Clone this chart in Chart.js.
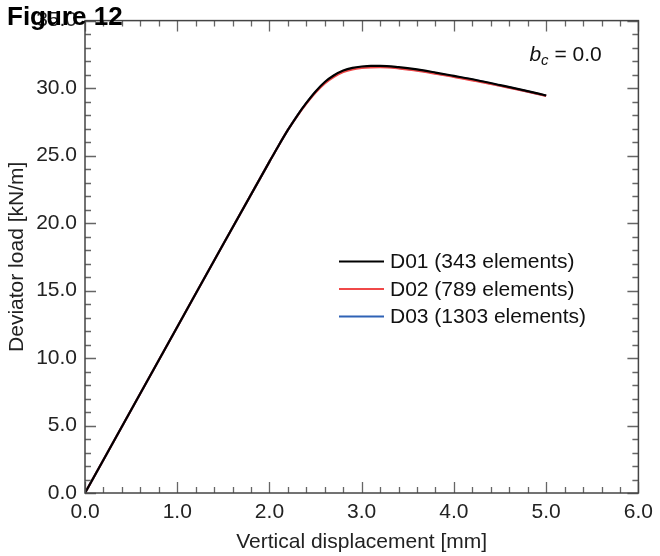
<!DOCTYPE html>
<html>
<head>
<meta charset="utf-8">
<script src="https://cdn.jsdelivr.net/npm/chart.js@4.4.1/dist/chart.umd.min.js"></script>
<style>
  html, body { margin: 0; padding: 0; background: #fff; }
  #wrap { width: 660px; height: 556px; }
</style>
</head>
<body>
<div id="wrap"><canvas id="chart" width="660" height="556"></canvas></div>
<script>
// vertical displacement [mm] and deviator load [kN/m] for the three meshes
const displacement = [0, 0.5, 1.0, 1.5, 2.0, 2.1, 2.2, 2.3, 2.4, 2.5, 2.6, 2.7, 2.8, 2.9, 3.0, 3.1, 3.2, 3.4, 3.6, 3.8, 4.0, 4.25, 4.5, 4.75, 5.0];
const loadD01 = [0, 6.15, 12.3, 18.45, 24.55, 25.75, 26.9, 27.95, 28.9, 29.75, 30.45, 30.95, 31.3, 31.5, 31.6, 31.65, 31.65, 31.55, 31.38, 31.15, 30.9, 30.58, 30.22, 29.85, 29.45];
const loadD02 = [0, 6.15, 12.3, 18.45, 24.55, 25.75, 26.9, 27.93, 28.86, 29.68, 30.35, 30.84, 31.19, 31.39, 31.49, 31.54, 31.55, 31.46, 31.29, 31.07, 30.83, 30.52, 30.17, 29.81, 29.42];
const loadD03 = [0, 6.15, 12.3, 18.45, 24.55, 25.75, 26.9, 27.94, 28.88, 29.72, 30.4, 30.9, 31.25, 31.45, 31.55, 31.6, 31.6, 31.5, 31.33, 31.11, 30.86, 30.55, 30.19, 29.83, 29.43];

const seriesLabels = ['D01 (343 elements)', 'D02 (789 elements)', 'D03 (1303 elements)'];
const seriesColors = ['#000000', '#f04848', '#2f62b5'];

const xTicks = [0, 1, 2, 3, 4, 5, 6];
const yTicks = [0, 5, 10, 15, 20, 25, 30, 35];

const FONT = "'Liberation Sans', Arial, sans-serif";
Chart.defaults.font.family = FONT;
Chart.defaults.color = '#222';

function toPoints(ys) {
    return displacement.map((x, i) => ({ x: x, y: ys[i] }));
}

// frame, inward ticks, legend and labels drawn on top
const overlay = {
    id: 'overlay',
    afterDatasetsDraw(chart) {
        let ctx = chart.ctx;
        let a = chart.chartArea;
        let xs = chart.scales.x;
        let ys = chart.scales.y;
        ctx.save();

        ctx.strokeStyle = '#666';
        ctx.lineWidth = 1.3;
        ctx.beginPath();
        for (let i = 0; i <= 30; i++) {
            let px = Math.round(xs.getPixelForValue(i * 0.2)) + 0.5;
            let len = i % 5 === 0 ? 11 : 6;
            ctx.moveTo(px, a.bottom); ctx.lineTo(px, a.bottom - len);
            ctx.moveTo(px, a.top); ctx.lineTo(px, a.top + len);
        }
        for (let i = 0; i <= 35; i++) {
            let py = Math.round(ys.getPixelForValue(i)) + 0.5;
            let len = i % 5 === 0 ? 11 : 6;
            ctx.moveTo(a.left, py); ctx.lineTo(a.left + len, py);
            ctx.moveTo(a.right, py); ctx.lineTo(a.right - len, py);
        }
        ctx.stroke();

        ctx.strokeStyle = '#444';
        ctx.lineWidth = 1.5;
        ctx.strokeRect(a.left, a.top, a.right - a.left, a.bottom - a.top);

        // legend
        ctx.font = '21px ' + FONT;
        ctx.textBaseline = 'middle';
        ctx.textAlign = 'left';
        chart.data.datasets.forEach((ds, i) => {
            let y = a.top + 241 + i * 27.5;
            let x0 = a.left + 254;
            ctx.strokeStyle = ds.borderColor;
            ctx.lineWidth = 2;
            ctx.beginPath();
            ctx.moveTo(x0, y); ctx.lineTo(x0 + 45, y);
            ctx.stroke();
            ctx.fillStyle = '#111';
            ctx.fillText(ds.label, x0 + 51, y + 1);
        });

        // b_c annotation
        ctx.textBaseline = 'alphabetic';
        let bx = a.right - 109;
        let by = a.top + 40;
        ctx.font = 'italic 21px ' + FONT;
        ctx.fillText('b', bx, by);
        bx += ctx.measureText('b').width;
        ctx.font = 'italic 15px ' + FONT;
        ctx.fillText('c', bx, by + 4);
        bx += ctx.measureText('c').width;
        ctx.font = '21px ' + FONT;
        ctx.fillText(' = 0.0', bx, by);

        ctx.font = 'bold 26px ' + FONT;
        ctx.fillStyle = '#000';
        ctx.fillText('Figure 12', 7, 25);
        ctx.restore();
    }
};

let datasets = [loadD01, loadD02, loadD03].map((ys, i) => ({
    label: seriesLabels[i],
    data: toPoints(ys),
    borderColor: seriesColors[i],
    backgroundColor: seriesColors[i],
    borderWidth: 2.2,
    pointRadius: 0,
    showLine: true,
    fill: false,
    cubicInterpolationMode: 'monotone',
}));

new Chart(document.getElementById('chart'), {
    type: 'scatter',
    data: { datasets: datasets },
    options: {
        responsive: false,
        animation: false,
        layout: { padding: { top: 13, right: 17, left: 0, bottom: 0 } },
        plugins: {
            legend: { display: false },
            tooltip: { enabled: false },
        },
        scales: {
            x: {
                type: 'linear',
                min: 0,
                max: 6,
                afterBuildTicks: s => { s.ticks = xTicks.map(v => ({ value: v })); },
                afterFit: s => { s.height = 63; },
                ticks: {
                    callback: v => v.toFixed(1),
                    font: { size: 21 },
                    padding: 7,
                    maxRotation: 0,
                },
                grid: { display: false, drawTicks: false },
                border: { display: false },
                title: {
                    display: true,
                    text: 'Vertical displacement [mm]',
                    font: { size: 21 },
                    padding: { top: 0, bottom: 1 },
                },
            },
            y: {
                type: 'linear',
                min: 0,
                max: 35,
                afterBuildTicks: s => { s.ticks = yTicks.map(v => ({ value: v })); },
                afterFit: s => { s.width = 85; },
                ticks: {
                    callback: v => v.toFixed(1),
                    font: { size: 21 },
                    padding: 8,
                },
                grid: { display: false, drawTicks: false },
                border: { display: false },
                title: {
                    display: true,
                    text: 'Deviator load [kN/m]',
                    font: { size: 21 },
                    padding: { top: 5, bottom: 0 },
                },
            },
        },
    },
    plugins: [overlay],
});
</script>
</body>
</html>
